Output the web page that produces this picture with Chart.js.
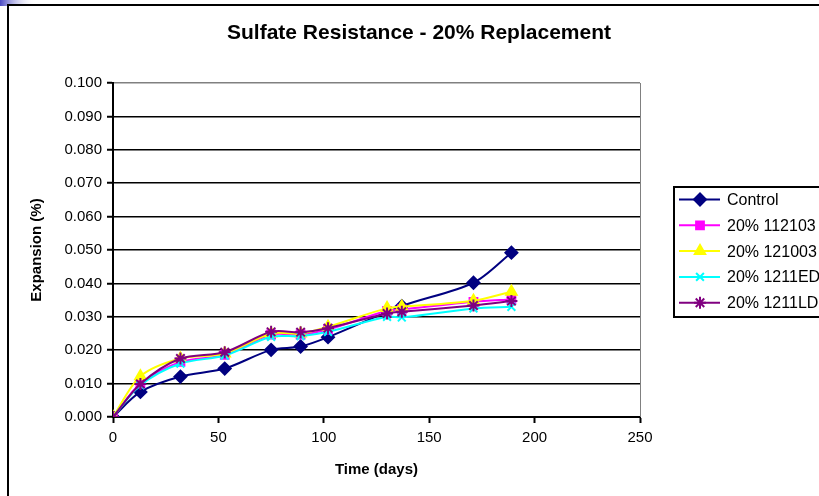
<!DOCTYPE html>
<html>
<head>
<meta charset="utf-8">
<title>Sulfate Resistance - 20% Replacement</title>
<script src="https://cdn.jsdelivr.net/npm/chart.js@4.4.1/dist/chart.umd.min.js"></script>
<style>
  html, body { margin: 0; padding: 0; background: #fff; overflow: hidden; }
  canvas { display: block; }
</style>
</head>
<body>
<canvas id="miGrafico" width="819" height="496"></canvas>
<script>
// Datos
const diasControl = [0, 13, 32, 53, 75, 89, 102, 137, 171, 189];
const diasMezclas = [0, 13, 32, 53, 75, 89, 102, 130, 137, 171, 189];

const control    = [0, 0.0075, 0.0121, 0.0145, 0.0201, 0.0211, 0.0239, 0.0332, 0.0402, 0.0492];
const mezcla112103 = [0, 0.0100, 0.0165, 0.0186, 0.0247, 0.0247, 0.0262, 0.0318, 0.0322, 0.0345, 0.0352];
const mezcla121003 = [0, 0.0122, 0.0175, 0.0190, 0.0250, 0.0250, 0.0270, 0.0326, 0.0330, 0.0348, 0.0375];
const mezcla1211ED = [0, 0.0095, 0.0160, 0.0184, 0.0240, 0.0242, 0.0255, 0.0300, 0.0298, 0.0325, 0.0330];
const mezcla1211LD = [0, 0.0099, 0.0175, 0.0194, 0.0255, 0.0254, 0.0266, 0.0310, 0.0315, 0.0334, 0.0347];

const etiquetas = ['Control', '20% 112103', '20% 121003', '20% 1211ED', '20% 1211LD'];

const fuente = '"Liberation Sans", Arial, sans-serif';

function puntos(dias, valores) {
    return valores.map((v, i) => ({ x: dias[i], y: v }));
}

// Marco, degradado y titulo
const marco = {
    id: 'marco',
    beforeDraw(chart) {
        const ctx = chart.ctx;
        ctx.save();
        ctx.fillStyle = '#fff';
        ctx.fillRect(0, 0, chart.width, chart.height);
        const grad = ctx.createLinearGradient(0, 0, 36, 0);
        grad.addColorStop(0, '#4a4ac4');
        grad.addColorStop(1, 'rgba(255,255,255,0)');
        ctx.fillStyle = grad;
        ctx.fillRect(0, 0, 36, 6);
        ctx.fillStyle = '#000';
        ctx.fillRect(7, 4, chart.width - 7, 2);
        ctx.fillRect(7, 4, 2, chart.height - 4);
        ctx.restore();
    },
    afterDraw(chart) {
        const ctx = chart.ctx;
        const a = chart.chartArea;
        ctx.save();
        // borde gris del area de trazado
        ctx.strokeStyle = '#808080';
        ctx.lineWidth = 1;
        ctx.beginPath();
        ctx.moveTo(a.right + 0.5, a.top);
        ctx.lineTo(a.right + 0.5, a.bottom);
        ctx.stroke();
        // titulo
        ctx.fillStyle = '#000';
        ctx.font = 'bold 21px ' + fuente;
        ctx.textAlign = 'center';
        ctx.textBaseline = 'middle';
        ctx.fillText('Sulfate Resistance - 20% Replacement', 419, 33);
        ctx.restore();
    }
};

// Leyenda con recuadro
const leyenda = {
    id: 'leyenda',
    afterDraw(chart) {
        const ctx = chart.ctx;
        ctx.save();
        ctx.strokeStyle = '#000';
        ctx.lineWidth = 2;
        ctx.strokeRect(674, 187, 200, 130);
        ctx.font = '16px ' + fuente;
        ctx.textBaseline = 'middle';
        ctx.textAlign = 'left';
        chart.data.datasets.forEach((ds, i) => {
            const y = 199.5 + i * 25.8;
            ctx.strokeStyle = ds.borderColor;
            ctx.lineWidth = 2;
            ctx.beginPath();
            ctx.moveTo(679, y);
            ctx.lineTo(720, y);
            ctx.stroke();
            ctx.fillStyle = ds.pointBackgroundColor;
            ctx.strokeStyle = ds.pointBorderColor;
            ctx.lineWidth = ds.pointBorderWidth;
            Chart.helpers.drawPoint(ctx, {
                pointStyle: ds.pointStyle,
                radius: ds.pointRadius,
                borderWidth: ds.pointBorderWidth,
                rotation: 0
            }, 700, y);
            ctx.fillStyle = '#000';
            ctx.fillText(ds.label, 727, y + 1);
        });
        ctx.restore();
    }
};

function serie(label, dias, valores, color, estilo, radio, fondo, orden) {
    return {
        label: label,
        data: puntos(dias, valores),
        borderColor: color,
        borderWidth: 2,
        tension: 0.3,
        pointStyle: estilo,
        pointRadius: radio,
        pointHoverRadius: radio,
        pointBackgroundColor: fondo,
        pointBorderColor: color,
        pointBorderWidth: 2,
        order: orden
    };
}

const ctx = document.getElementById('miGrafico').getContext('2d');
const miGrafico = new Chart(ctx, {
    type: 'line',
    data: {
        datasets: [
            serie(etiquetas[0], diasControl, control, '#000080', 'rectRot', 6, '#000080', 5),
            serie(etiquetas[1], diasMezclas, mezcla112103, '#ff00ff', 'rect', 5.5, '#ff00ff', 4),
            serie(etiquetas[2], diasMezclas, mezcla121003, '#ffff00', 'triangle', 6, '#ffff00', 3),
            serie(etiquetas[3], diasMezclas, mezcla1211ED, '#00ffff', 'crossRot', 5.5, '#00ffff', 2),
            serie(etiquetas[4], diasMezclas, mezcla1211LD, '#800080', 'star', 6, '#800080', 1)
        ]
    },
    options: {
        responsive: false,
        animation: false,
        devicePixelRatio: 1,
        layout: { padding: { left: 0, right: 179, top: 83, bottom: 0 } },
        plugins: {
            legend: { display: false },
            title: { display: false },
            tooltip: { enabled: false }
        },
        scales: {
            x: {
                type: 'linear',
                min: 0,
                max: 250,
                afterFit: s => { s.height = 79; },
                ticks: {
                    stepSize: 50,
                    padding: 6,
                    color: '#000',
                    font: { family: fuente, size: 15 }
                },
                grid: {
                    drawOnChartArea: false,
                    drawTicks: true,
                    tickLength: 6,
                    tickColor: '#000',
                    tickWidth: 2
                },
                border: { color: '#000', width: 2 },
                title: {
                    display: true,
                    text: 'Time (days)',
                    color: '#000',
                    font: { family: fuente, size: 15, weight: 'bold' },
                    padding: { top: 0, bottom: 17 }
                }
            },
            y: {
                min: 0,
                max: 0.1,
                afterFit: s => { s.width = 113; },
                ticks: {
                    stepSize: 0.01,
                    padding: 5,
                    color: '#000',
                    font: { family: fuente, size: 15 },
                    callback: v => Number(v).toFixed(3)
                },
                grid: {
                    color: c => (c.tick && c.tick.value >= 0.0999) ? '#808080' : '#000',
                    lineWidth: 1.5,
                    tickLength: 6,
                    tickColor: '#000',
                    tickWidth: 2
                },
                border: { color: '#000', width: 2 },
                title: {
                    display: true,
                    text: 'Expansion (%)',
                    color: '#000',
                    font: { family: fuente, size: 15, weight: 'bold' },
                    padding: { top: 28, bottom: 0 }
                }
            }
        }
    },
    plugins: [marco, leyenda]
});
</script>
</body>
</html>
